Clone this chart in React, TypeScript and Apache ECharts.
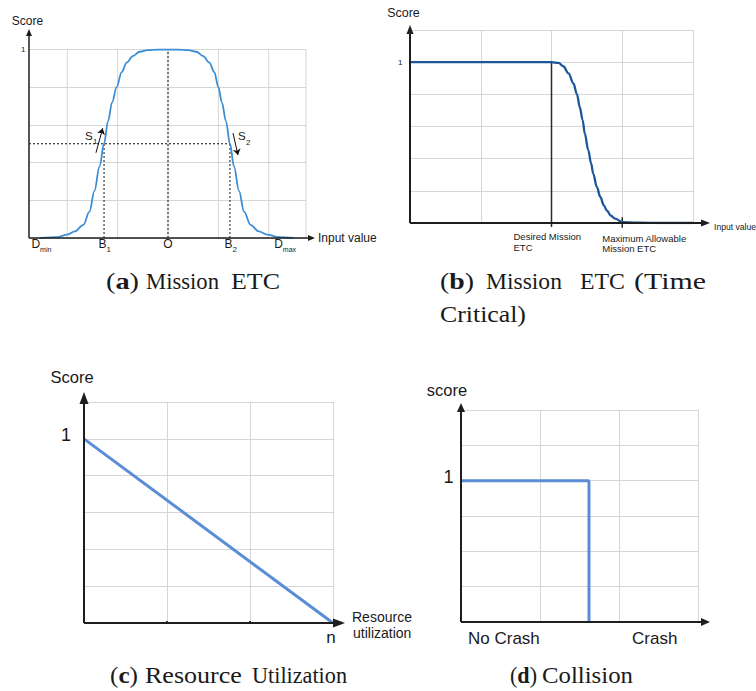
import React, { useEffect, useRef } from 'react';
import * as echarts from 'echarts';

// ---------- (a) Mission ETC ----------
const missionX = [-2.54, -2.2, -2.0, -1.85, -1.68, -1.56, -1.46, -1.36, -1.27, -1.19, -1.11, -1.02, -0.92, -0.82, -0.7, -0.56, -0.4, -0.2, 0, 0.2, 0.4, 0.56, 0.7, 0.82, 0.92, 1.0, 1.07, 1.15, 1.23, 1.31, 1.41, 1.51, 1.64, 1.8, 1.97, 2.2, 2.49];
const missionY = [0, 0.005, 0.018, 0.035, 0.07, 0.14, 0.25, 0.38, 0.5, 0.62, 0.72, 0.8, 0.88, 0.93, 0.965, 0.988, 0.997, 1, 1, 1, 0.997, 0.988, 0.965, 0.93, 0.88, 0.8, 0.72, 0.62, 0.5, 0.38, 0.25, 0.14, 0.07, 0.035, 0.018, 0.005, 0];
const missionGridX = [-2, -1, 0, 1, 2, 2.74];
const missionB1 = -1.27;
const missionB2 = 1.23;
const missionHalf = 0.5;
const missionTickMain = ['D', 'B', 'O', 'B', 'D'];
const missionTickSub = ['min', '1', '', '2', 'max'];
const missionTickPos = [-2.54, missionB1, 0, missionB2, 2.28];
const s1Arrow = [[-1.43, 0.452], [-1.297, 0.582]];
const s2Arrow = [[1.29, 0.557], [1.39, 0.44]];

// ---------- (b) Mission ETC (Time Critical) ----------
const timeX = [0, 1, 1.9, 2, 2.1, 2.17, 2.24, 2.31, 2.36, 2.4, 2.44, 2.47, 2.52, 2.56, 2.59, 2.64, 2.69, 2.74, 2.78, 2.84, 2.9, 3.0, 3.2, 3.6, 4.0];
const timeY = [1, 1, 1, 1, 0.995, 0.973, 0.93, 0.868, 0.8, 0.72, 0.64, 0.557, 0.453, 0.37, 0.306, 0.225, 0.162, 0.11, 0.079, 0.045, 0.027, 0.006, 0.002, 0, 0];
const timeDesired = 2;
const timeMaxAllowable = 3;

// ---------- (c) Resource Utilization ----------
const resourceX = [0, 3];
const resourceY = [1, 0];

// ---------- (d) Collision ----------
const collisionX = [0, 1.62, 1.62];
const collisionY = [1, 1, 0];

const zip = (xs: number[], ys: number[]) => xs.map((x, i) => [x, ys[i]]);

const SANS = '"Liberation Sans", Arial, sans-serif';
const SERIF = '"Liberation Serif", "Times New Roman", serif';
const GRID_COLOR = '#d6d6d6';
const AXIS_COLOR = '#1e1e1e';

export default function App() {
  const ref = useRef<HTMLDivElement>(null);

  useEffect(() => {
    document.body.style.margin = '0';
    const chart = echarts.init(ref.current!, null, { renderer: 'svg' });
    const hideAxis = {
      axisLine: { show: false },
      axisTick: { show: false },
      axisLabel: { show: false },
    };
    const split = { show: true, lineStyle: { color: GRID_COLOR, width: 1 } };

    chart.setOption({
      animation: false,
      grid: [
        { left: 29, top: 49.5, width: 277, height: 188.5 },
        { left: 410, top: 30, width: 283, height: 193 },
        { left: 84, top: 402, width: 249, height: 221 },
        { left: 461, top: 410, width: 237, height: 212 },
      ],
      xAxis: [
        { gridIndex: 0, type: 'value', min: -2.76, max: 2.74, ...hideAxis, splitLine: { show: false } },
        { gridIndex: 1, type: 'value', min: 0, max: 4, interval: 1, ...hideAxis, splitLine: split },
        {
          gridIndex: 2, type: 'value', min: 0, max: 3, interval: 1,
          axisLine: { show: false }, axisLabel: { show: false },
          axisTick: { show: true, inside: true, length: 2, lineStyle: { color: '#333', width: 2 } },
          splitLine: split,
        },
        { gridIndex: 3, type: 'value', min: 0, max: 3, interval: 1, ...hideAxis, splitLine: split },
      ],
      yAxis: [
        { gridIndex: 0, type: 'value', min: 0, max: 1, interval: 0.2, ...hideAxis, splitLine: split },
        { gridIndex: 1, type: 'value', min: 0, max: 1.2, interval: 0.2, ...hideAxis, splitLine: split },
        { gridIndex: 2, type: 'value', min: 0, max: 1.2, interval: 0.2, ...hideAxis, splitLine: split },
        { gridIndex: 3, type: 'value', min: 0, max: 1.5, interval: 0.25, ...hideAxis, splitLine: split },
      ],
      series: [
        // (a)
        {
          type: 'line', xAxisIndex: 0, yAxisIndex: 0, data: zip(missionX, missionY),
          smooth: 0.35, smoothMonotone: 'x', showSymbol: false, z: 4,
          lineStyle: { color: '#3b8dd6', width: 1.8 },
        },
        ...[
          [[-2.76, missionHalf], [missionB2, missionHalf]],
          [[missionB1, 0], [missionB1, missionHalf]],
          [[missionB2, 0], [missionB2, missionHalf]],
          [[0, 0], [0, 1]],
        ].map((d) => ({
          type: 'line', xAxisIndex: 0, yAxisIndex: 0, data: d, showSymbol: false, z: 3,
          lineStyle: { color: '#111', width: 1, type: [2, 2] },
        })),
        {
          type: 'lines', coordinateSystem: 'cartesian2d', xAxisIndex: 0, yAxisIndex: 0,
          symbol: ['none', 'arrow'], symbolSize: 6, z: 5,
          lineStyle: { color: '#111', width: 1, opacity: 1 },
          data: [{ coords: s1Arrow }, { coords: s2Arrow }],
        },
        // (b)
        {
          type: 'line', xAxisIndex: 1, yAxisIndex: 1, data: [[timeDesired, 1], [timeDesired, -0.025]],
          showSymbol: false, clip: false, z: 3, lineStyle: { color: '#2a2a2a', width: 1.5 },
        },
        {
          type: 'line', xAxisIndex: 1, yAxisIndex: 1, data: [[timeMaxAllowable, 0.035], [timeMaxAllowable, -0.03]],
          showSymbol: false, clip: false, z: 3, lineStyle: { color: '#2a2a2a', width: 1.5 },
        },
        {
          type: 'line', xAxisIndex: 1, yAxisIndex: 1, data: zip(timeX, timeY),
          smooth: 0.35, smoothMonotone: 'x', showSymbol: false, z: 4,
          lineStyle: { color: '#1c5699', width: 2.3 },
        },
        // (c)
        {
          type: 'line', xAxisIndex: 2, yAxisIndex: 2, data: zip(resourceX, resourceY),
          showSymbol: false, z: 4, lineStyle: { color: '#5b8dd6', width: 3 },
        },
        // (d)
        {
          type: 'line', xAxisIndex: 3, yAxisIndex: 3, data: zip(collisionX, collisionY),
          showSymbol: false, z: 4, lineStyle: { color: '#5b8dd6', width: 3 },
        },
      ],
    });

    const P = (g: number, x: number, y: number) =>
      chart.convertToPixel({ gridIndex: g } as any, [x, y]) as unknown as number[];

    const ctx = document.createElement('canvas').getContext('2d')!;
    const measure = (t: string, font: string) => {
      ctx.font = font;
      return ctx.measureText(t).width || 1;
    };

    const gfx: any[] = [];
    const line = (x1: number, y1: number, x2: number, y2: number, stroke: string, lineWidth: number, z = 5) =>
      gfx.push({ type: 'line', z, silent: true, shape: { x1, y1, x2, y2 }, style: { stroke, lineWidth } });
    const text = (t: string, x: number, y: number, size: number, align = 'left', family = SANS, vAlign = 'middle', extra: any = {}, scaleX = 1) =>
      gfx.push({
        type: 'text', z: 10, silent: true, x, y, scaleX,
        style: {
          text: t, font: `${size}px ${family}`, fill: '#1a1a1a',
          align, textAlign: align, verticalAlign: vAlign, textVerticalAlign: vAlign, ...extra,
        },
      });
    const axes = (g: number, xmin: number, xmax: number, ymin: number, ymax: number,
      topExt: number, rightExt: number, headL: number, headW: number, lw: number) => {
      const o = P(g, xmin, ymin);
      const tr = P(g, xmax, ymax);
      const tipY = tr[1] - topExt;
      const tipX = tr[0] + rightExt;
      line(o[0], o[1], o[0], tipY + headL - 1, AXIS_COLOR, lw);
      line(o[0], o[1], tipX - headL + 1, o[1], AXIS_COLOR, lw);
      gfx.push({ type: 'polygon', z: 6, silent: true, shape: { points: [[o[0], tipY], [o[0] - headW, tipY + headL], [o[0] + headW, tipY + headL]] }, style: { fill: AXIS_COLOR } });
      gfx.push({ type: 'polygon', z: 6, silent: true, shape: { points: [[tipX, o[1]], [tipX - headL, o[1] - headW], [tipX - headL, o[1] + headW]] }, style: { fill: AXIS_COLOR } });
      return o;
    };

    // (a) vertical gridlines
    missionGridX.forEach((gx) => {
      const a = P(0, gx, 0);
      const b = P(0, gx, 1);
      line(a[0], a[1], b[0], b[1], GRID_COLOR, 1, 1);
    });
    const oA = axes(0, -2.76, 2.74, 0, 1, 20.5, 9, 7, 3, 1.5);
    text('Score', oA[0] - 1.5, 21, 12, 'center');
    text('1', oA[0] - 3.5, P(0, 0, 1)[1], 8, 'right');
    text('Input value', 318, oA[1], 12, 'left');
    missionTickPos.forEach((tx, i) => {
      const px = P(0, tx, 0)[0];
      if (missionTickSub[i] === '') {
        text(missionTickMain[i], px, oA[1] + 5.5, 12, 'center');
      } else {
        const dx = missionTickMain[i] === 'B' ? 2.5 : 0;
        text(missionTickMain[i], px + dx, oA[1] + 5.5, 12, 'right');
        text(missionTickSub[i], px + dx, oA[1] + 11, missionTickSub[i].length > 1 ? 7 : 8, 'left');
      }
    });
    const s1 = P(0, s1Arrow[0][0], s1Arrow[0][1]);
    text('S', s1[0] - 11, 136, 11.5, 'left');
    text('1', s1[0] - 3, 141.5, 8, 'left');
    const s2 = P(0, s2Arrow[0][0], s2Arrow[0][1]);
    text('S', s2[0] + 5, 136, 11.5, 'left');
    text('2', s2[0] + 13, 142, 8, 'left');

    // (b)
    const oB = axes(1, 0, 4, 0, 1.2, 5, 17, 9, 3.5, 2);
    text('Score', 403.5, 13, 12.5, 'center');
    text('1', oB[0] - 7.5, P(1, 0, 1)[1], 8, 'right');
    text('Input value', 714, oB[1] + 3.5, 8.6, 'left');
    const dB = P(1, timeDesired, 0);
    text('Desired Mission\nETC', dB[0] - 38, 230.5, 9.5, 'left', SANS, 'top', { lineHeight: 11 });
    const mB = P(1, timeMaxAllowable, 0);
    text('Maximum Allowable\nMission ETC', mB[0] - 20, 233, 9.5, 'left', SANS, 'top', { lineHeight: 10 });

    // (c)
    const oC = axes(2, 0, 3, 0, 1.2, 10, 12, 12, 4.5, 2);
    text('Score', 72, 377, 16.5, 'center');
    text('1', oC[0] - 13, P(2, 0, 1)[1] - 4, 18, 'right');
    const nC = P(2, resourceX[1], 0);
    text('n', nC[0] - 2, 637, 17, 'center');
    text('Resource', 352, 617, 14, 'left');
    text('utilization', 353, 633, 14, 'left');

    // (d)
    const oD = axes(3, 0, 3, 0, 1.5, 7, 12, 9, 4, 2);
    text('score', 447, 390, 16.5, 'center');
    text('1', oD[0] - 7.5, P(3, 0, 1)[1] - 4, 18, 'right');
    text('No Crash', 468, 638, 17, 'left');
    text('Crash', 632, 638, 17, 'left');

    // captions (words stretched to the widths of the reference's Palatino-like face)
    const CAP_SIZE = 23;
    const CAP_FONT = `${CAP_SIZE}px ${SERIF}`;
    const capLetter = (letter: string, x: number, y: number, w: number) => {
      const natural = measure('(', CAP_FONT) + measure(letter, `bold ${CAP_FONT}`) + measure(')', CAP_FONT);
      gfx.push({
        type: 'text', z: 10, silent: true, x, y, scaleX: w / natural,
        style: {
          text: `{p|(}{b|${letter}}{p|)}`, font: CAP_FONT, fill: '#1a1a1a',
          align: 'left', textAlign: 'left', verticalAlign: 'middle', textVerticalAlign: 'middle',
          rich: {
            p: { fontSize: CAP_SIZE, fontFamily: SERIF, color: '#1a1a1a' },
            b: { fontSize: CAP_SIZE, fontFamily: SERIF, fontWeight: 'bold', color: '#1a1a1a' },
          },
        },
      });
    };
    const cap = (t: string, x: number, y: number, w: number) =>
      text(t, x, y, CAP_SIZE, 'left', SERIF, 'middle', {}, w / measure(t, CAP_FONT));
    capLetter('a', 106, 281, 33); cap('Mission', 146, 281, 73); cap('ETC', 231, 281, 49);
    capLetter('b', 440, 281, 34); cap('Mission', 486, 281, 76); cap('ETC', 580, 281, 45); cap('(Time', 634, 281, 72);
    cap('Critical)', 440, 314, 86);
    capLetter('c', 110, 675, 28); cap('Resource', 145, 675, 97); cap('Utilization', 252, 675, 95);
    capLetter('d', 510, 675, 27); cap('Collision', 542, 675, 91);

    chart.setOption({ graphic: gfx });
    return () => chart.dispose();
  }, []);

  return <div ref={ref} style={{ width: 756, height: 691 }} />;
}
